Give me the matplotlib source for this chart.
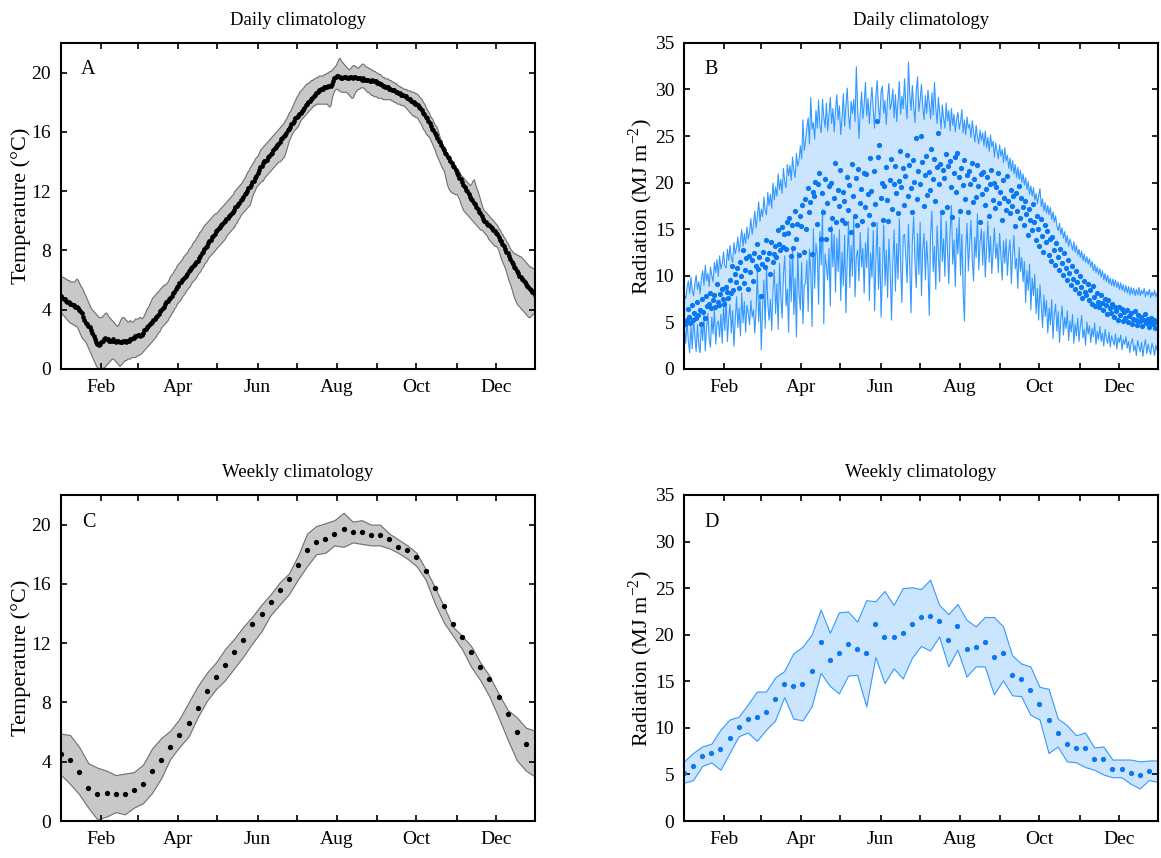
import numpy as np
import matplotlib
matplotlib.use("Agg")
import matplotlib.pyplot as plt

plt.rcParams['font.family'] = ['Liberation Serif', 'DejaVu Serif']
plt.rcParams['mathtext.fontset'] = 'stix'
plt.rcParams['font.size'] = 13

# ---- daily climatology (day of year 1..365) ----
temp_mean = [
    4.9, 4.8, 4.7, 4.7, 4.6, 4.5, 4.5, 4.4, 4.4, 4.3,
    4.3, 4.2, 4.2, 4.1, 4.0, 3.9, 3.8, 3.5, 3.3, 3.1,
    3.0, 2.9, 2.8, 2.6, 2.4, 2.2, 2.0, 1.8, 1.7, 1.6,
    1.7, 1.8, 1.9, 2.0, 2.1, 2.0, 2.0, 1.9, 1.9, 1.9,
    2.0, 1.9, 1.8, 1.9, 1.9, 1.8, 1.8, 1.8, 1.9, 1.9,
    1.8, 1.9, 1.9, 2.0, 2.0, 2.1, 2.1, 2.2, 2.2, 2.3,
    2.3, 2.2, 2.3, 2.4, 2.6, 2.7, 2.8, 2.9, 3.0, 3.1,
    3.2, 3.3, 3.4, 3.5, 3.6, 3.7, 3.9, 4.0, 4.1, 4.2,
    4.4, 4.5, 4.6, 4.7, 4.8, 4.9, 5.1, 5.2, 5.4, 5.5,
    5.6, 5.8, 5.9, 6.0, 6.1, 6.2, 6.3, 6.4, 6.6, 6.7,
    6.8, 6.9, 7.0, 7.1, 7.2, 7.3, 7.5, 7.6, 7.8, 7.9,
    8.1, 8.2, 8.3, 8.5, 8.6, 8.7, 8.9, 9.0, 9.1, 9.3,
    9.4, 9.5, 9.6, 9.7, 9.8, 9.9, 10.0, 10.1, 10.2, 10.3,
    10.4, 10.5, 10.6, 10.7, 10.9, 11.0, 11.1, 11.2, 11.4, 11.5,
    11.6, 11.8, 11.9, 12.0, 12.2, 12.3, 12.4, 12.6, 12.7, 12.9,
    13.0, 13.2, 13.4, 13.6, 13.7, 13.9, 14.0, 14.0, 14.1, 14.3,
    14.4, 14.5, 14.6, 14.8, 14.9, 15.0, 15.1, 15.2, 15.3, 15.5,
    15.6, 15.7, 15.8, 15.9, 16.1, 16.2, 16.3, 16.5, 16.6, 16.7,
    16.9, 17.0, 17.1, 17.2, 17.3, 17.4, 17.5, 17.6, 17.8, 17.9,
    18.0, 18.1, 18.2, 18.3, 18.4, 18.5, 18.6, 18.7, 18.8, 18.8,
    18.9, 18.9, 19.0, 19.0, 19.0, 19.1, 19.1, 19.1, 19.2, 19.4,
    19.6, 19.7, 19.8, 19.8, 19.7, 19.6, 19.6, 19.7, 19.7, 19.7,
    19.6, 19.6, 19.7, 19.7, 19.6, 19.7, 19.7, 19.6, 19.6, 19.6,
    19.6, 19.5, 19.6, 19.5, 19.5, 19.5, 19.5, 19.4, 19.4, 19.5,
    19.4, 19.4, 19.4, 19.3, 19.3, 19.2, 19.2, 19.1, 19.1, 19.0,
    19.0, 19.0, 18.9, 18.9, 18.8, 18.8, 18.8, 18.7, 18.7, 18.6,
    18.6, 18.5, 18.5, 18.5, 18.4, 18.4, 18.3, 18.2, 18.2, 18.1,
    18.0, 18.0, 17.9, 17.9, 17.8, 17.7, 17.6, 17.5, 17.3, 17.2,
    17.0, 16.9, 16.7, 16.6, 16.4, 16.2, 16.1, 15.9, 15.8, 15.6,
    15.4, 15.3, 15.1, 14.9, 14.8, 14.6, 14.5, 14.3, 14.2, 14.0,
    13.9, 13.7, 13.6, 13.4, 13.2, 13.1, 12.9, 12.8, 12.6, 12.4,
    12.3, 12.1, 12.0, 11.8, 11.6, 11.5, 11.4, 11.2, 11.1, 10.9,
    10.8, 10.6, 10.5, 10.3, 10.1, 10.0, 9.9, 9.8, 9.7, 9.7,
    9.6, 9.5, 9.4, 9.3, 9.2, 9.1, 8.9, 8.7, 8.6, 8.4,
    8.3, 8.1, 7.9, 7.8, 7.6, 7.4, 7.2, 7.1, 6.9, 6.8,
    6.6, 6.5, 6.3, 6.2, 6.1, 6.0, 5.9, 5.7, 5.6, 5.5,
    5.4, 5.3, 5.2, 5.1, 5.0]

temp_hi = [
    6.3, 6.2, 6.2, 6.1, 6.1, 6.0, 6.0, 5.9, 5.9, 5.9,
    5.9, 6.0, 6.1, 6.0, 5.8, 5.6, 5.5, 5.3, 5.1, 4.9,
    4.7, 4.5, 4.3, 4.1, 4.0, 3.9, 3.8, 3.7, 3.6, 3.5,
    3.5, 3.5, 3.6, 3.7, 3.8, 3.8, 3.6, 3.5, 3.4, 3.3,
    3.2, 3.1, 3.0, 2.9, 3.0, 3.2, 3.4, 3.5, 3.5, 3.4,
    3.3, 3.2, 3.2, 3.3, 3.2, 3.2, 3.3, 3.4, 3.4, 3.4,
    3.5, 3.5, 3.4, 3.5, 3.7, 3.9, 4.1, 4.2, 4.4, 4.6,
    4.8, 4.9, 5.0, 5.1, 5.2, 5.3, 5.4, 5.5, 5.6, 5.7,
    5.7, 5.8, 5.9, 6.1, 6.3, 6.4, 6.5, 6.7, 6.8, 7.0,
    7.1, 7.2, 7.3, 7.4, 7.6, 7.7, 7.8, 7.9, 8.1, 8.2,
    8.3, 8.5, 8.6, 8.7, 8.9, 9.0, 9.2, 9.3, 9.4, 9.6,
    9.7, 9.8, 9.9, 10.0, 10.1, 10.2, 10.3, 10.4, 10.5, 10.5,
    10.6, 10.7, 10.8, 10.9, 11.0, 11.1, 11.2, 11.3, 11.4, 11.5,
    11.6, 11.7, 11.8, 12.0, 12.1, 12.2, 12.3, 12.4, 12.5, 12.6,
    12.8, 12.9, 13.1, 13.3, 13.4, 13.6, 13.7, 13.9, 14.0, 14.2,
    14.3, 14.4, 14.6, 14.8, 14.9, 15.0, 15.1, 15.2, 15.3, 15.4,
    15.5, 15.6, 15.7, 15.8, 15.9, 16.0, 16.1, 16.2, 16.3, 16.4,
    16.5, 16.6, 16.8, 16.9, 17.1, 17.3, 17.4, 17.6, 17.8, 18.0,
    18.2, 18.4, 18.5, 18.7, 18.8, 18.9, 19.0, 19.1, 19.2, 19.3,
    19.3, 19.4, 19.5, 19.5, 19.6, 19.6, 19.7, 19.7, 19.8, 19.8,
    19.8, 19.8, 19.9, 19.9, 20.0, 20.0, 20.1, 20.1, 20.2, 20.3,
    20.4, 20.5, 20.7, 20.9, 21.0, 20.8, 20.7, 20.6, 20.5, 20.4,
    20.3, 20.2, 20.3, 20.4, 20.5, 20.5, 20.4, 20.4, 20.3, 20.4,
    20.5, 20.6, 20.6, 20.5, 20.4, 20.4, 20.3, 20.3, 20.2, 20.2,
    20.1, 20.1, 20.0, 20.0, 19.9, 19.9, 19.8, 19.7, 19.7, 19.6,
    19.6, 19.6, 19.5, 19.5, 19.4, 19.4, 19.3, 19.3, 19.2, 19.1,
    19.1, 19.0, 19.0, 18.9, 18.9, 18.9, 18.8, 18.8, 18.8, 18.7,
    18.7, 18.7, 18.6, 18.6, 18.5, 18.4, 18.3, 18.2, 18.0, 17.9,
    17.7, 17.5, 17.4, 17.2, 17.0, 16.9, 16.7, 16.5, 16.4, 16.2,
    15.9, 15.6, 15.3, 15.0, 14.8, 14.6, 14.4, 14.3, 14.2, 14.1,
    14.0, 13.9, 13.8, 13.6, 13.5, 13.4, 13.3, 13.1, 13.0, 12.9,
    12.8, 12.7, 12.6, 12.5, 12.4, 12.5, 12.7, 12.8, 12.5, 12.2,
    12.0, 11.7, 11.4, 11.1, 10.8, 10.7, 10.6, 10.5, 10.4, 10.3,
    10.2, 10.1, 10.0, 9.9, 9.8, 9.7, 9.5, 9.4, 9.2, 9.1,
    8.9, 8.8, 8.6, 8.5, 8.3, 8.1, 8.0, 7.9, 7.8, 7.8,
    7.7, 7.7, 7.6, 7.6, 7.5, 7.4, 7.3, 7.2, 7.1, 7.0,
    6.9, 6.9, 6.8, 6.8, 6.7]

temp_lo = [
    3.8, 3.7, 3.6, 3.5, 3.4, 3.3, 3.2, 3.1, 3.1, 3.0,
    3.0, 2.9, 2.9, 2.7, 2.5, 2.3, 2.1, 2.0, 1.9, 1.8,
    1.6, 1.4, 1.2, 1.0, 0.8, 0.6, 0.4, 0.2, 0.1, 0.0,
    0.0, 0.0, 0.1, 0.1, 0.2, 0.3, 0.4, 0.5, 0.6, 0.7,
    0.7, 0.6, 0.5, 0.4, 0.3, 0.2, 0.3, 0.4, 0.5, 0.6,
    0.6, 0.7, 0.7, 0.7, 0.8, 0.8, 0.8, 0.8, 0.9, 0.9,
    1.0, 1.0, 1.1, 1.2, 1.3, 1.4, 1.5, 1.6, 1.7, 1.8,
    1.9, 2.0, 2.1, 2.2, 2.4, 2.5, 2.6, 2.8, 2.9, 3.0,
    3.1, 3.2, 3.3, 3.5, 3.6, 3.8, 3.9, 4.1, 4.2, 4.4,
    4.5, 4.6, 4.7, 4.9, 5.0, 5.1, 5.3, 5.4, 5.5, 5.6,
    5.8, 5.9, 6.0, 6.1, 6.2, 6.4, 6.5, 6.6, 6.8, 6.9,
    7.1, 7.2, 7.3, 7.5, 7.6, 7.7, 7.8, 7.9, 8.0, 8.1,
    8.2, 8.3, 8.4, 8.5, 8.6, 8.7, 8.8, 9.0, 9.1, 9.2,
    9.3, 9.4, 9.5, 9.6, 9.8, 9.9, 10.1, 10.2, 10.4, 10.5,
    10.6, 10.7, 10.8, 10.9, 11.0, 11.1, 11.4, 11.7, 11.9, 12.1,
    12.3, 12.4, 12.5, 12.6, 12.7, 12.7, 12.9, 13.0, 13.1, 13.2,
    13.3, 13.4, 13.5, 13.6, 13.7, 13.8, 13.9, 14.0, 14.0, 14.1,
    14.2, 14.3, 14.5, 14.8, 15.1, 15.4, 15.6, 15.8, 16.0, 16.1,
    16.2, 16.3, 16.4, 16.6, 16.8, 16.9, 17.0, 17.1, 17.2, 17.3,
    17.4, 17.5, 17.6, 17.7, 17.8, 17.8, 17.9, 17.9, 17.9, 17.9,
    17.9, 17.9, 17.9, 17.9, 17.9, 17.8, 17.7, 17.8, 18.3, 18.6,
    18.8, 18.9, 18.9, 18.8, 18.8, 18.7, 18.7, 18.7, 18.7, 18.7,
    18.6, 18.5, 18.4, 18.3, 18.3, 18.5, 18.7, 18.8, 18.9, 18.9,
    19.0, 19.0, 19.0, 18.9, 18.8, 18.7, 18.7, 18.6, 18.5, 18.5,
    18.4, 18.4, 18.4, 18.3, 18.3, 18.3, 18.3, 18.2, 18.2, 18.2,
    18.2, 18.2, 18.2, 18.2, 18.1, 18.1, 18.0, 18.0, 17.9, 17.9,
    17.9, 17.8, 17.8, 17.8, 17.7, 17.6, 17.5, 17.4, 17.3, 17.2,
    17.1, 17.1, 17.0, 17.0, 16.9, 16.7, 16.6, 16.4, 16.2, 16.1,
    15.9, 15.8, 15.7, 15.6, 15.4, 15.2, 15.0, 14.8, 14.5, 14.3,
    14.1, 13.9, 13.7, 13.5, 13.4, 13.0, 12.6, 12.3, 12.1, 12.0,
    11.9, 11.9, 11.8, 11.8, 11.8, 11.6, 11.4, 11.1, 10.9, 10.7,
    10.6, 10.5, 10.4, 10.3, 10.2, 10.1, 10.0, 9.9, 9.8, 9.7,
    9.6, 9.5, 9.4, 9.4, 9.3, 9.2, 9.1, 9.0, 8.8, 8.7,
    8.6, 8.5, 8.4, 8.3, 8.3, 8.2, 8.0, 7.7, 7.4, 7.2,
    7.0, 6.8, 6.5, 6.2, 5.9, 5.7, 5.4, 5.1, 4.8, 4.6,
    4.4, 4.3, 4.2, 4.1, 4.0, 3.9, 3.8, 3.7, 3.6, 3.5,
    3.5, 3.6, 3.7, 3.8, 3.9]

rad_mean = [
    5.0, 4.8, 5.3, 6.4, 5.6, 4.9, 6.9, 5.2, 6.0, 5.5,
    7.2, 5.8, 6.3, 4.8, 7.5, 6.1, 5.5, 7.8, 6.8, 7.0,
    8.2, 6.5, 7.4, 7.9, 6.6, 9.1, 7.2, 6.9, 8.0, 8.6,
    7.5, 7.0, 8.8, 8.3, 7.6, 9.5, 8.1, 11.0, 8.5, 10.2,
    9.3, 10.8, 8.7, 11.5, 10.0, 12.8, 9.2, 10.6, 11.9, 8.6,
    12.1, 10.4, 11.7, 9.4, 12.4, 11.0, 13.4, 10.7, 12.0, 7.8,
    11.3, 12.6, 10.9, 13.8, 11.8, 12.4, 10.2, 13.6, 11.5, 12.3,
    13.2, 12.0, 14.9, 13.4, 12.8, 15.2, 13.1, 14.5, 12.9, 15.8,
    14.6, 16.2, 12.1, 15.4, 13.0, 17.0, 14.0, 15.6, 12.2, 16.4,
    15.3, 17.6, 12.5, 18.2, 15.0, 19.4, 16.8, 17.9, 12.3, 19.0,
    18.6, 20.1, 15.6, 19.8, 21.0, 14.0, 18.9, 16.9, 20.4, 13.9,
    17.8, 19.6, 15.0, 20.0, 16.2, 18.4, 22.1, 15.8, 19.2, 17.5,
    21.4, 16.0, 19.0, 18.0, 15.7, 20.6, 17.1, 19.7, 14.7, 22.0,
    18.6, 16.4, 20.5, 15.4, 21.5, 17.8, 19.3, 15.9, 21.0, 17.4,
    20.9, 18.8, 16.5, 22.6, 19.1, 15.6, 21.2, 17.7, 26.6, 22.8,
    24.0, 18.4, 20.0, 16.0, 19.6, 21.7, 18.1, 15.9, 20.3, 22.5,
    17.2, 19.8, 21.8, 18.9, 16.7, 20.2, 23.4, 19.5, 21.6, 17.6,
    20.7, 23.0, 18.6, 21.9, 19.4, 16.8, 22.4, 20.1, 24.8, 18.2,
    21.3, 19.8, 25.0, 22.2, 17.5, 20.8, 22.9, 18.7, 21.1, 19.2,
    23.6, 20.4, 22.5, 18.0, 21.7, 25.3, 19.9, 22.0, 16.9, 21.4,
    20.5, 23.1, 17.4, 21.8, 22.3, 19.5, 16.3, 21.0, 22.7, 19.0,
    23.2, 20.6, 17.0, 21.6, 19.7, 22.4, 18.2, 20.8, 16.8, 21.3,
    19.9, 22.1, 17.9, 20.4, 18.5, 21.9, 19.6, 15.8, 20.9, 18.8,
    21.1, 17.6, 19.3, 20.6, 16.4, 19.8, 21.4, 18.1, 20.0, 17.3,
    19.5, 21.0, 17.8, 19.0, 16.0, 20.3, 18.4, 17.1, 20.7, 18.0,
    16.7, 19.2, 17.5, 18.6, 15.3, 18.9, 17.0, 19.6, 16.2, 18.3,
    17.4, 15.5, 18.0, 16.6, 14.4, 17.2, 16.0, 14.9, 17.7, 15.8,
    13.8, 16.4, 15.0, 13.2, 16.1, 14.3, 12.6, 15.4, 13.6, 14.8,
    12.2, 13.9, 11.6, 14.2, 12.8, 11.2, 13.5, 12.0, 10.6, 12.9,
    11.4, 10.1, 12.4, 10.8, 9.5, 11.7, 10.3, 9.0, 11.0, 9.7,
    8.6, 10.5, 9.3, 8.1, 10.0, 8.8, 7.6, 9.4, 8.3, 7.9,
    9.1, 7.4, 8.5, 7.0, 8.9, 7.7, 6.8, 8.2, 7.2, 6.6,
    7.9, 7.1, 6.3, 7.5, 6.9, 5.9, 7.4, 6.5, 6.0, 7.0,
    5.6, 6.7, 6.2, 5.3, 6.6, 5.8, 6.4, 5.1, 6.1, 5.5,
    6.3, 5.0, 5.7, 6.0, 4.8, 5.4, 6.2, 5.2, 4.7, 5.8,
    5.1, 5.6, 4.6, 5.3, 5.9, 4.9, 5.4, 4.5, 5.0, 5.5,
    4.8, 5.2, 4.4, 5.0, 5.3]

rad_hi = [
    8.0, 7.6, 8.8, 9.5, 8.2, 9.9, 8.5, 7.9, 9.2, 10.1,
    8.6, 9.4, 8.1, 9.8, 10.6, 9.0, 11.2, 9.5, 10.3, 8.9,
    11.0, 10.1, 9.4, 11.5, 10.4, 11.8, 10.0, 12.2, 10.8, 11.4,
    12.6, 11.1, 10.9, 12.9, 11.7, 13.3, 12.0, 11.5, 13.6, 12.4,
    13.1, 14.2, 12.6, 13.8, 15.0, 13.2, 14.6, 13.5, 15.3, 14.0,
    14.8, 16.2, 14.5, 15.6, 17.0, 15.2, 16.5, 18.0, 15.9, 17.2,
    16.4, 18.5, 17.1, 16.6, 19.0, 17.6, 18.8, 17.3, 20.0, 18.2,
    19.6, 18.6, 21.0, 19.3, 20.4, 18.9, 21.6, 20.2, 19.5, 22.0,
    20.8, 21.9, 20.3, 22.8, 21.4, 20.6, 23.2, 21.8, 22.5, 24.0,
    22.6, 26.8, 23.5, 24.6, 26.0, 27.0, 24.2, 29.2, 25.8, 26.5,
    24.7, 27.8, 25.9, 28.9, 26.2, 25.4, 29.0, 27.1, 26.0, 28.6,
    25.6, 27.4, 29.2, 26.4, 28.0, 25.5, 27.9, 29.5, 26.8, 28.3,
    25.2, 27.0, 29.6, 26.1, 28.4, 30.2, 27.3, 25.8, 28.8, 27.5,
    29.0, 26.6, 32.5, 28.1, 24.8, 27.6, 29.8, 26.9, 28.5, 30.8,
    27.2, 29.1, 26.4, 28.7, 30.3, 27.8, 25.9, 29.4, 31.0, 28.2,
    26.8, 29.9, 30.4, 27.5, 28.9, 26.3, 29.2, 30.7, 27.9, 28.6,
    30.1, 27.0, 29.5, 26.6, 28.8, 30.9, 27.4, 29.3, 28.0, 31.2,
    28.4, 26.9, 33.0, 29.6, 27.8, 30.5, 28.3, 26.5, 29.9, 31.4,
    27.7, 29.0, 30.6, 28.2, 26.8, 29.4, 27.5, 30.0, 28.6, 26.9,
    29.7, 27.3, 30.8, 28.1, 26.4, 29.2, 27.6, 25.8, 28.4, 27.0,
    25.9, 28.6, 26.7, 27.8, 25.6, 28.0, 26.2, 27.4, 25.5, 26.9,
    27.6, 25.8, 26.6, 27.9, 25.4, 26.8, 25.2, 27.1, 25.9, 26.3,
    24.9, 26.7, 25.6, 24.4, 26.2, 25.0, 24.2, 25.7, 24.6, 25.4,
    24.0, 25.6, 23.8, 24.9, 23.4, 25.2, 23.9, 24.5, 22.8, 24.3,
    23.5, 22.6, 24.1, 22.9, 23.6, 22.2, 23.8, 22.4, 23.0, 21.6,
    22.7, 21.3, 22.4, 21.0, 22.0, 20.6, 21.7, 20.4, 21.4, 20.1,
    21.0, 19.8, 20.6, 19.3, 20.2, 18.8, 19.7, 18.6, 19.5, 18.2,
    18.9, 17.8, 18.7, 19.4, 17.5, 18.3, 17.0, 17.9, 16.8, 17.6,
    16.6, 17.4, 16.1, 16.9, 15.8, 16.5, 15.4, 14.9, 15.7, 14.5,
    15.2, 14.1, 14.8, 13.6, 14.4, 13.2, 14.0, 13.5, 12.8, 13.7,
    12.6, 13.3, 12.3, 12.9, 12.0, 12.7, 11.7, 12.4, 11.5, 12.1,
    11.3, 11.9, 11.0, 11.6, 10.6, 11.3, 10.4, 11.0, 10.2, 10.8,
    9.9, 10.6, 9.6, 10.3, 9.4, 10.1, 9.2, 9.8, 9.0, 9.7,
    8.9, 9.6, 8.8, 9.4, 8.6, 9.3, 8.5, 9.1, 8.3, 9.0,
    8.2, 8.9, 8.0, 8.8, 8.1, 8.7, 7.9, 8.6, 8.0, 8.8,
    7.9, 8.5, 8.1, 8.7, 7.8, 8.4, 8.0, 8.6, 7.7, 8.3,
    7.9, 8.5, 7.8, 8.2, 8.4]

rad_lo = [
    4.5, 2.8, 5.2, 3.0, 1.8, 4.6, 2.2, 5.5, 3.4, 1.9,
    4.8, 2.5, 1.8, 5.0, 3.1, 5.8, 2.0, 4.4, 6.0, 3.2,
    2.4, 5.6, 3.8, 6.5, 2.7, 4.9, 5.2, 3.5, 5.9, 2.8,
    6.8, 4.2, 7.6, 3.0, 5.5, 7.0, 3.9, 6.3, 2.5, 5.2,
    7.8, 4.5, 6.6, 3.6, 8.2, 5.0, 7.3, 4.0, 6.9, 6.0,
    4.8, 7.4, 5.6, 6.4, 3.9, 6.2, 10.5, 5.1, 8.0, 2.1,
    6.5, 9.6, 4.4, 11.0, 7.1, 5.3, 7.5, 4.2, 8.4, 10.7,
    6.0, 9.2, 4.3, 11.4, 7.7, 5.5, 10.1, 12.2, 6.8, 8.6,
    4.0, 11.8, 7.3, 13.2, 5.9, 9.8, 3.5, 12.6, 8.1, 6.4,
    11.5, 4.9, 9.0, 9.2, 11.7, 6.2, 12.9, 10.4, 4.6, 15.1,
    8.7, 13.5, 12.3, 7.0, 14.8, 11.2, 17.2, 4.9, 12.4, 11.0,
    9.6, 13.0, 6.8, 15.4, 11.0, 14.5, 8.3, 14.1, 10.5, 15.0,
    7.4, 12.6, 9.0, 14.4, 6.1, 11.8, 15.9, 8.8, 13.3, 10.0,
    16.4, 7.8, 12.1, 12.8, 9.5, 14.7, 11.0, 13.0, 8.2, 13.6,
    10.9, 15.2, 7.4, 12.5, 9.9, 14.9, 6.3, 11.6, 15.8, 8.6,
    13.1, 5.6, 10.2, 15.5, 9.0, 12.8, 7.7, 14.0, 10.6, 5.3,
    11.4, 15.0, 8.4, 13.5, 9.7, 16.2, 11.1, 7.2, 14.3, 14.5,
    12.0, 9.3, 15.6, 10.8, 6.1, 13.7, 16.4, 11.5, 8.8, 14.6,
    10.2, 15.8, 7.9, 12.9, 14.6, 9.6, 13.8, 11.0, 5.8, 14.4,
    17.0, 10.5, 13.2, 8.6, 15.4, 12.1, 9.4, 16.8, 11.6, 14.0,
    10.0, 15.9, 12.7, 9.2, 14.8, 17.6, 11.3, 13.9, 8.9, 15.2,
    12.4, 16.3, 10.1, 14.5, 8.3, 5.2, 12.8, 15.7, 10.6, 13.4,
    16.0, 11.8, 9.5, 14.2, 12.0, 16.7, 10.7, 13.6, 15.1, 11.2,
    14.8, 9.9, 13.0, 15.9, 11.5, 14.3, 10.3, 12.7, 15.2, 11.9,
    13.5, 10.4, 14.6, 12.2, 9.6, 13.8, 11.4, 14.0, 10.1, 12.6,
    13.9, 9.2, 12.3, 14.4, 10.8, 11.9, 8.7, 13.1, 10.5, 12.0,
    9.4, 11.6, 7.2, 10.6, 8.5, 11.3, 6.4, 9.8, 7.9, 10.2,
    6.0, 8.7, 5.3, 9.1, 6.8, 4.5, 8.0, 5.7, 7.4, 3.9,
    6.6, 4.8, 7.5, 3.3, 5.9, 7.0, 4.1, 6.2, 2.9, 5.4,
    6.8, 3.7, 5.6, 4.4, 6.3, 3.1, 5.2, 4.0, 5.9, 2.8,
    4.9, 3.6, 5.5, 3.0, 4.6, 5.8, 3.4, 4.3, 2.6, 5.1,
    3.8, 4.7, 2.9, 4.4, 3.5, 5.0, 2.7, 4.1, 3.2, 4.6,
    3.0, 3.9, 2.5, 4.3, 3.3, 2.8, 4.0, 2.4, 3.6, 3.1,
    2.6, 3.8, 2.2, 3.4, 2.9, 3.7, 2.1, 3.2, 2.7, 3.5,
    2.3, 3.0, 1.8, 2.8, 3.3, 2.0, 2.6, 1.5, 3.1, 2.4,
    1.9, 2.9, 1.4, 2.5, 3.2, 1.7, 2.7, 2.1, 1.6, 2.8,
    2.3, 1.5, 2.6, 2.0, 3.0]

# ---- weekly climatology (52 weeks; band has an extra value at day 365) ----
wk_temp_mean = [4.5, 4.1, 3.3, 2.2, 1.8, 1.9, 1.8, 1.8, 2.1, 2.5, 3.4, 4.1, 5.0,
                5.8, 6.6, 7.6, 8.8, 9.7, 10.5, 11.4, 12.2, 13.3, 14.0, 14.8, 15.6, 16.3,
                17.3, 18.3, 18.8, 19.0, 19.4, 19.7, 19.5, 19.5, 19.3, 19.3, 19.0, 18.5,
                18.3, 17.8, 16.9, 15.7, 14.5, 13.3, 12.4, 11.4, 10.4, 9.6, 8.4, 7.2, 6.0, 5.2]
wk_temp_hi = [5.9, 5.8, 5.0, 3.9, 3.6, 3.4, 3.1, 3.2, 3.3, 3.8, 4.9, 5.6, 6.1,
              6.9, 8.0, 9.1, 10.0, 10.7, 11.6, 12.3, 13.1, 13.8, 14.6, 15.3, 16.1, 16.7,
              17.9, 19.4, 19.9, 20.1, 20.3, 20.8, 20.2, 20.3, 20.0, 20.0, 19.4, 19.0,
              18.6, 18.1, 17.0, 15.8, 14.5, 13.1, 12.5, 11.8, 10.7, 9.8, 8.6, 7.5, 7.0, 6.3, 6.1]
wk_temp_lo = [3.1, 2.5, 1.8, 0.9, 0.1, 0.3, 0.6, 0.45, 0.9, 1.2, 1.9, 2.9, 4.2,
              5.0, 5.7, 7.0, 8.1, 8.9, 9.5, 10.3, 11.1, 12.0, 12.8, 13.9, 14.6, 15.3,
              16.3, 17.2, 18.0, 18.1, 18.6, 18.5, 18.8, 18.7, 18.6, 18.6, 18.4, 18.1,
              17.7, 17.2, 16.3, 14.7, 13.4, 12.5, 11.6, 10.4, 9.5, 8.4, 7.0, 5.5, 4.1, 3.4, 3.0]

wk_rad_mean = [5.2, 5.9, 7.0, 7.3, 7.7, 8.9, 10.1, 11.0, 11.2, 11.7, 13.1, 14.7, 14.5,
               14.7, 16.1, 19.2, 17.3, 18.0, 19.0, 18.5, 18.0, 21.1, 19.8, 19.8, 20.2, 21.2,
               21.9, 22.0, 21.5, 19.4, 20.9, 18.5, 18.7, 19.2, 17.6, 18.0, 15.7, 15.2,
               14.1, 12.6, 10.8, 9.4, 8.3, 7.8, 7.8, 6.7, 6.7, 5.6, 5.6, 5.2, 4.9, 5.4]
wk_rad_hi = [6.4, 7.3, 8.0, 8.3, 9.8, 10.9, 11.2, 12.5, 13.9, 13.9, 15.4, 16.1, 18.0,
             18.7, 20.0, 22.7, 20.2, 22.4, 22.5, 21.4, 23.7, 23.6, 24.7, 23.2, 25.0, 25.1,
             24.9, 25.9, 23.2, 22.2, 23.3, 21.6, 20.9, 21.9, 21.9, 20.9, 17.8, 16.9,
             16.6, 14.4, 14.2, 11.0, 10.3, 9.2, 9.5, 7.9, 8.0, 6.6, 6.6, 6.6, 6.4, 6.5, 6.5]
wk_rad_lo = [4.1, 4.4, 5.9, 6.3, 5.5, 7.3, 9.1, 9.5, 8.6, 9.8, 10.8, 13.3, 11.0,
             10.8, 12.3, 15.9, 14.5, 13.7, 15.6, 15.7, 12.3, 17.6, 14.8, 16.4, 15.3, 17.5,
             18.8, 18.3, 19.8, 16.6, 18.4, 15.5, 16.6, 16.6, 13.6, 15.1, 13.5, 13.4,
             11.4, 10.9, 7.3, 8.0, 6.4, 6.3, 5.8, 5.5, 5.0, 4.7, 4.7, 4.0, 3.5, 4.4, 4.2]

month_start = [1, 32, 60, 91, 121, 152, 182, 213, 244, 274, 305, 335]
month_lab = ['', 'Feb', '', 'Apr', '', 'Jun', '', 'Aug', '', 'Oct', '', 'Dec']

days = np.arange(1, 366)
wk_days = np.arange(1, 365, 7)
wk_band_days = np.append(wk_days, 365)

GRAY_FILL = '#c8c8c8'
GRAY_EDGE = '#6e6e6e'
BLUE_FILL = '#cce5ff'
BLUE_EDGE = '#3399ff'
BLUE_DOT = '#0a78f0'

fig = plt.figure(figsize=(11.61, 8.58), dpi=100)
w, h = 0.4083, 0.38
axA = fig.add_axes([0.0525, 0.570, w, h])
axB = fig.add_axes([0.5891, 0.570, w, h])
axC = fig.add_axes([0.0525, 0.0431, w, h])
axD = fig.add_axes([0.5891, 0.0431, w, h])

# A: daily temperature
axA.fill_between(days, temp_lo, temp_hi, facecolor=GRAY_FILL, edgecolor=GRAY_EDGE, linewidth=0.8)
axA.plot(days, temp_mean, 'o', color='k', ms=3.4, mew=0)
# B: daily radiation
axB.fill_between(days, rad_lo, rad_hi, facecolor=BLUE_FILL, edgecolor=BLUE_EDGE, linewidth=0.8)
axB.plot(days, rad_mean, 'o', color=BLUE_DOT, ms=3.8, mew=0)
# C: weekly temperature
axC.fill_between(wk_band_days, wk_temp_lo, wk_temp_hi, facecolor=GRAY_FILL, edgecolor=GRAY_EDGE, linewidth=0.8)
axC.plot(wk_days, wk_temp_mean, 'o', color='k', ms=3.8, mew=0)
# D: weekly radiation
axD.fill_between(wk_band_days, wk_rad_lo, wk_rad_hi, facecolor=BLUE_FILL, edgecolor=BLUE_EDGE, linewidth=0.8)
axD.plot(wk_days, wk_rad_mean, 'o', color=BLUE_DOT, ms=3.8, mew=0)

for ax, letter, title in [(axA, 'A', 'Daily climatology'), (axB, 'B', 'Daily climatology'),
                          (axC, 'C', 'Weekly climatology'), (axD, 'D', 'Weekly climatology')]:
    ax.set_xlim(1, 365)
    ax.set_xticks(month_start)
    ax.set_xticklabels(month_lab)
    ax.tick_params(direction='in', top=True, right=True, length=4, width=1.2, labelsize=14, pad=7)
    for s in ax.spines.values():
        s.set_linewidth(1.5)
    ax.set_title(title, fontsize=13.5, pad=13)
    ax.text(0.058, 0.917, letter, transform=ax.transAxes, ha='center', va='center', fontsize=14.5)

for ax in (axA, axC):
    ax.set_ylim(0, 22)
    ax.set_yticks([0, 4, 8, 12, 16, 20])
    ax.set_ylabel('Temperature (°C)', fontsize=16, labelpad=0)
for ax in (axB, axD):
    ax.set_ylim(0, 35)
    ax.set_yticks([0, 5, 10, 15, 20, 25, 30, 35])
    ax.set_ylabel(r'Radiation (MJ m$^{\mathregular{-2}}$)', fontsize=16, labelpad=0)

fig.savefig('out.png', dpi=100)
